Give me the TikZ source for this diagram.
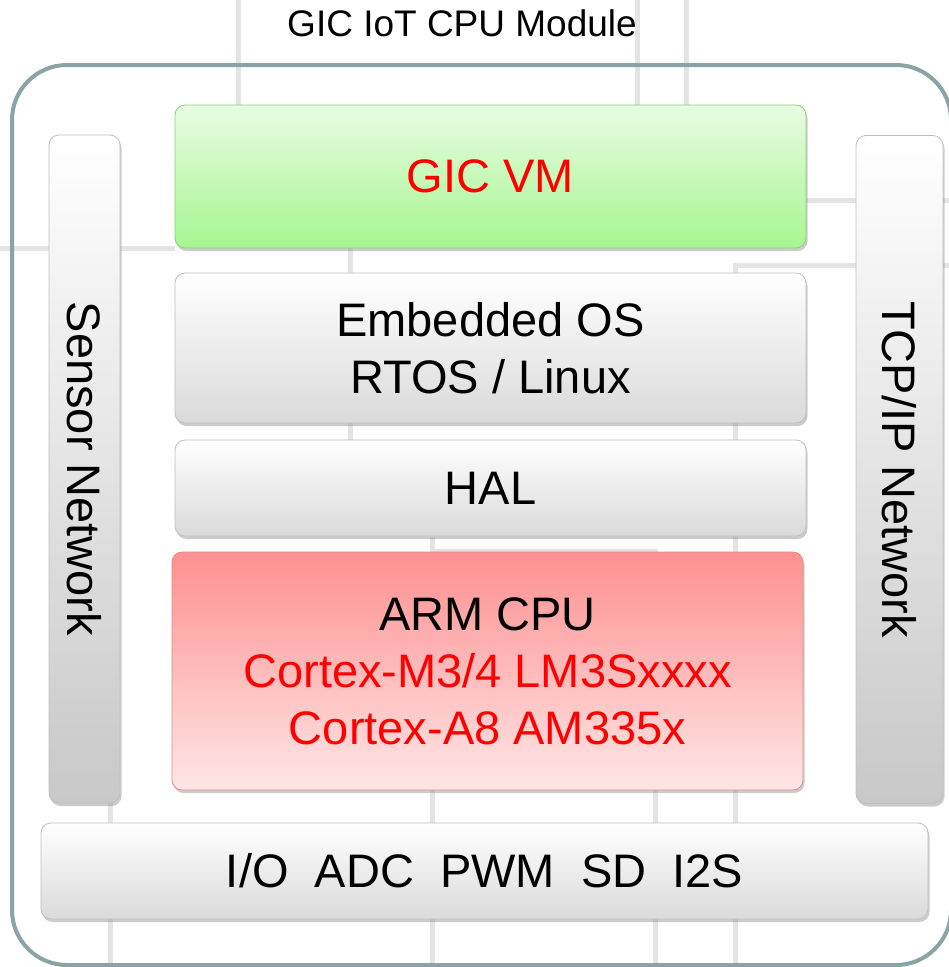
\documentclass[tikz,border=0pt]{standalone}
\usepackage{fontspec}
\setmainfont{Liberation Sans}
\usepackage{graphicx}
\usetikzlibrary{shadows}

\definecolor{frame}{RGB}{138,164,166}
\definecolor{gridln}{RGB}{228,228,228}
\definecolor{vmtop}{RGB}{232,252,226}
\definecolor{vmbot}{RGB}{166,246,144}
\definecolor{vmline}{RGB}{140,205,125}
\definecolor{cputop}{RGB}{254,144,144}
\definecolor{cpubot}{RGB}{255,230,230}
\definecolor{cpuline}{RGB}{225,140,140}
\definecolor{barbot}{RGB}{200,200,200}
\definecolor{boxbot}{RGB}{218,218,218}

\begin{document}
\begin{tikzpicture}[x=1pt,y=-1pt,
	box/.style={rounded corners=10pt, draw=black!25, line width=0.8pt, inner sep=0pt, align=center,
		font=\fontsize{47}{57}\selectfont,
		drop shadow={opacity=0.4,shadow xshift=1.5pt,shadow yshift=-3pt}},
	layer/.style={box, minimum width=631pt, top color=white, bottom color=boxbot},
	vmbox/.style={layer, top color=vmtop, bottom color=vmbot, draw=vmline},
	cpubox/.style={layer, top color=cputop, bottom color=cpubot, draw=cpuline},
	netbar/.style={box, minimum height=668pt, top color=white, bottom color=barbot}]
\useasboundingbox (0,0) rectangle (949,967);

% background lines
\draw[gridln, line width=5pt]
	(238,0) -- (238,105)
	(637,0) -- (637,105)
	(686,0) -- (686,105)
	(0,248) -- (175,248)
	(350,248) -- (350,440)
	(806,200) -- (949,200)
	(949,265) -- (735,265) -- (735,967)
	(432,537) -- (432,967)
	(432,551) -- (655,551) -- (655,967)
	(110,248) -- (110,967);

\node (title) at (462,23) {\fontsize{37}{44}\selectfont GIC IoT CPU Module};

\node[draw=frame, line width=4pt, rounded corners=55pt, minimum width=939pt, minimum height=900pt] (module) at (481.5,515) {};

\node[netbar, minimum width=71pt] (sensor) at (84.5,469) {\rotatebox{-90}{Sensor Network}};
\node[netbar, minimum width=87pt] (tcpip) at (899.5,469.5) {\rotatebox{-90}{TCP/IP Network}};

\node[vmbox, minimum height=143pt] (vm) at (490.5,176.5) {\color{red}GIC VM};
\node[layer, minimum height=150pt] (os) at (490.5,348) {Embedded OS\\RTOS / Linux};
\node[layer, minimum height=96pt] (hal) at (490.5,488) {HAL};
\node[cpubox, minimum height=238pt] (cpu) at (487.5,671) {ARM CPU\\\color{red}Cortex-M3/4 LM3Sxxxx\\\color{red}Cortex-A8 AM335x};
\node[layer, minimum width=887pt, minimum height=96pt] (io) at (484.5,871) {I/O\ \ ADC\ \ PWM\ \ SD\ \ I2S};

\end{tikzpicture}
\end{document}
